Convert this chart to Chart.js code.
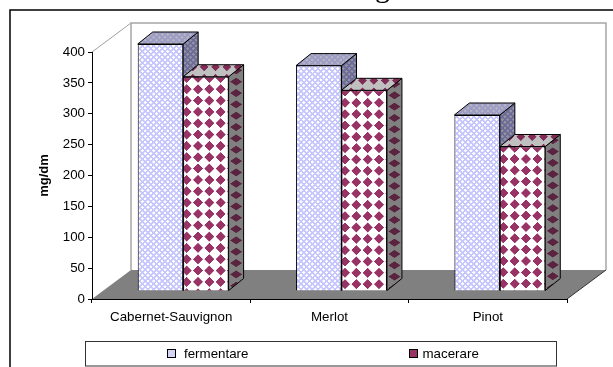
<!DOCTYPE html>
<html>
<head>
<meta charset="utf-8">
<style>
  body { margin: 0; background: #fff; }
  #wrap { position: relative; width: 613px; height: 367px; }
</style>
<script src="https://cdn.jsdelivr.net/npm/chart.js@4"></script>
</head>
<body>
<div id="wrap"><canvas id="myChart" width="613" height="367"></canvas></div>
<script>
const categories = ['Cabernet-Sauvignon', 'Merlot', 'Pinot'];
const fermentare = [400, 365, 285];
const macerare = [347, 325, 234];
const yTicksMax = 400;
const yTicksStep = 50;

const FONT = '"Liberation Sans", Arial, sans-serif';
const ctx = document.getElementById('myChart');

// the bars stand a little forward on the floor, and have their own depth
const floorDepth = { x: 39, y: -29 };
const barShift = { x: 12, y: -8 };
const barDepth = { x: 15, y: -12 };

// tiles are painted at 3x and scaled down so the period can be fractional
function tile(size, bg, paint) {
  const c = document.createElement('canvas');
  c.width = size;
  c.height = size;
  const g = c.getContext('2d');
  g.fillStyle = bg;
  g.fillRect(0, 0, size, size);
  paint(g, size);
  return c;
}

function diamond(g, x, y, r, color) {
  g.fillStyle = color;
  g.beginPath();
  g.moveTo(x - r, y);
  g.lineTo(x, y - r);
  g.lineTo(x + r, y);
  g.lineTo(x, y + r);
  g.closePath();
  g.fill();
}

function dotsTile(bg, fg, r) {
  return tile(34, bg, (g, s) => {
    diamond(g, s / 2, s / 2, r, fg);
  });
}

function latticeTile(bg, fg) {
  return tile(17, bg, (g, s) => {
    diamond(g, 0, 0, 5, fg);
    diamond(g, s, 0, 5, fg);
    diamond(g, 0, s, 5, fg);
    diamond(g, s, s, 5, fg);
    diamond(g, s / 2, s / 2, 5, fg);
  });
}

function pattern(canvas, a, d, e, f) {
  const p = ctx.getContext('2d').createPattern(canvas, 'repeat');
  p.setTransform(new DOMMatrix([a, 0, 0, d, e || 0, f || 0]));
  return p;
}

const third = 1 / 3;
const faces = [
  {
    front: pattern(latticeTile('#c6c6ff', '#ffffff'), third, third),
    side: pattern(latticeTile('#6c6c94', '#9090a8'), third, third),
    top: pattern(latticeTile('#9c9cc4', '#b4b4c4'), third, third),
    legend: '#d4d4f4'
  },
  {
    side: pattern(dotsTile('#808080', '#5a2440', 12), 0.5, third),
    top: pattern(dotsTile('#c0c0c0', '#802b55', 13), third, third),
    legend: '#993366'
  }
];

// the diamonds of the maroon bars start from each bar's own top corner
const diamondTile = dotsTile('#ffffff', '#993366', 15);
function maroonFront(c) {
  const left = c.chart.scales.x.getPixelForValue(c.dataIndex);
  const top = c.chart.scales.y.getPixelForValue(macerare[c.dataIndex]);
  return pattern(diamondTile, third, third, left + 3.5 - 17 * third, top + 12.5 - 17 * third);
}

function poly(g, pts, fill, stroke, width) {
  g.beginPath();
  pts.forEach((p, i) => (i ? g.lineTo(p[0], p[1]) : g.moveTo(p[0], p[1])));
  g.closePath();
  if (fill) {
    g.fillStyle = fill;
    g.fill();
  }
  if (stroke) {
    g.strokeStyle = stroke;
    g.lineWidth = width;
    g.stroke();
  }
}

function line(g, pts, color, width) {
  g.beginPath();
  pts.forEach((p, i) => (i ? g.lineTo(p[0], p[1]) : g.moveTo(p[0], p[1])));
  g.strokeStyle = color;
  g.lineWidth = width;
  g.stroke();
}

// page frame, walls and floor, all under the axes
const roomPlugin = {
  id: 'room',
  beforeDraw(chart) {
    const g = chart.ctx;
    const a = chart.chartArea;
    const dx = floorDepth.x;
    const dy = floorDepth.y;
    g.save();

    // the heading sits mostly above the top of the page
    g.fillStyle = '#000';
    g.font = '30px "Liberation Serif", serif';
    g.textAlign = 'left';
    g.textBaseline = 'alphabetic';
    g.fillText('g', 375, -3.5);

    line(g, [[10, 367], [10, 10], [613, 10]], '#000', 1.5);

    line(g, [[a.left, a.top], [a.left + dx, a.top + dy]], '#a0a0a0', 1);
    line(g, [[a.left + dx, a.bottom + dy], [a.left + dx, a.top + dy], [a.right + dx, a.top + dy], [a.right + dx, a.bottom + dy]], '#a6a6a6', 1.5);
    poly(g, [[a.left, a.bottom], [a.left + dx, a.bottom + dy], [a.right + dx, a.bottom + dy], [a.right, a.bottom]], '#808080');
    line(g, [[a.right, a.bottom], [a.right + dx, a.bottom + dy]], '#333', 1);

    // legend box
    g.strokeStyle = '#333';
    g.lineWidth = 1;
    g.strokeRect(85.5, 341.5, 471, 24.5);
    g.restore();
  },
  // side and top faces go down first, the library paints the fronts over them
  beforeDatasetsDraw(chart) {
    const g = chart.ctx;
    g.save();
    g.translate(barShift.x, barShift.y);
    chart.data.datasets.forEach((ds, i) => {
      chart.getDatasetMeta(i).data.forEach(bar => {
        const x0 = bar.x - bar.width / 2;
        const x1 = bar.x + bar.width / 2;
        const dx = barDepth.x;
        const dy = barDepth.y;
        if (i === 1) {
          faces[i].side.setTransform(new DOMMatrix([0.5, 0, 0, third, x1 - 1, bar.y - 12]));
          faces[i].top.setTransform(new DOMMatrix([third, 0, 0, third, x0 + 4, bar.y - 15.5]));
        }
        poly(g, [[x1, bar.y], [x1 + dx, bar.y + dy], [x1 + dx, bar.base + dy], [x1, bar.base]], faces[i].side, '#000', 1);
        poly(g, [[x0, bar.y], [x0 + dx, bar.y + dy], [x1 + dx, bar.y + dy], [x1, bar.y]], faces[i].top, '#000', 1);
      });
    });
    g.restore();
  },
  beforeDatasetDraw(chart) {
    chart.ctx.save();
    chart.ctx.translate(barShift.x, barShift.y);
  },
  afterDatasetDraw(chart) {
    chart.ctx.restore();
  },
  // legend entries sit far apart inside the box
  afterDraw(chart) {
    const g = chart.ctx;
    const swatchX = [167, 409];
    const textX = [184, 422.5];
    g.save();
    g.font = '13.33px ' + FONT;
    g.textBaseline = 'middle';
    g.textAlign = 'left';
    chart.data.datasets.forEach((ds, i) => {
      g.fillStyle = faces[i].legend;
      g.fillRect(swatchX[i] + 0.5, 349.5, 8, 8);
      g.strokeStyle = '#000';
      g.lineWidth = 1;
      g.strokeRect(swatchX[i] + 0.5, 349.5, 8, 8);
      g.fillStyle = '#000';
      g.fillText(ds.label, textX[i], 354.5);
    });
    g.restore();
  }
};

new Chart(ctx, {
  type: 'bar',
  data: {
    labels: categories,
    datasets: [
      { label: 'fermentare', data: fermentare, backgroundColor: faces[0].front, borderColor: '#000', borderWidth: 1, clip: false },
      { label: 'macerare', data: macerare, backgroundColor: maroonFront, borderColor: '#000', borderWidth: 1, clip: false }
    ]
  },
  plugins: [roomPlugin],
  options: {
    responsive: false,
    animation: false,
    categoryPercentage: 0.574,
    barPercentage: 1,
    layout: { padding: { left: 37, right: 46, top: 52, bottom: 38 } },
    plugins: {
      legend: { display: false },
      tooltip: { enabled: false }
    },
    scales: {
      x: {
        afterFit: s => { s.height = 30; },
        grid: { offset: true, drawOnChartArea: false, color: '#000', tickLength: 4 },
        border: { color: '#000', width: 1 },
        ticks: { color: '#000', font: { family: FONT, size: 13.33 }, padding: 6, maxRotation: 0 }
      },
      y: {
        min: 0,
        max: yTicksMax,
        afterFit: s => { s.width = 55; },
        title: { display: true, text: 'mg/dm', color: '#000', font: { family: FONT, size: 13, weight: 'bold' }, padding: 0 },
        grid: { drawOnChartArea: false, color: '#000', tickLength: 4 },
        border: { color: '#000', width: 1 },
        ticks: { stepSize: yTicksStep, color: '#000', font: { family: FONT, size: 13.33 }, padding: 3 }
      }
    }
  }
});
</script>
</body>
</html>
